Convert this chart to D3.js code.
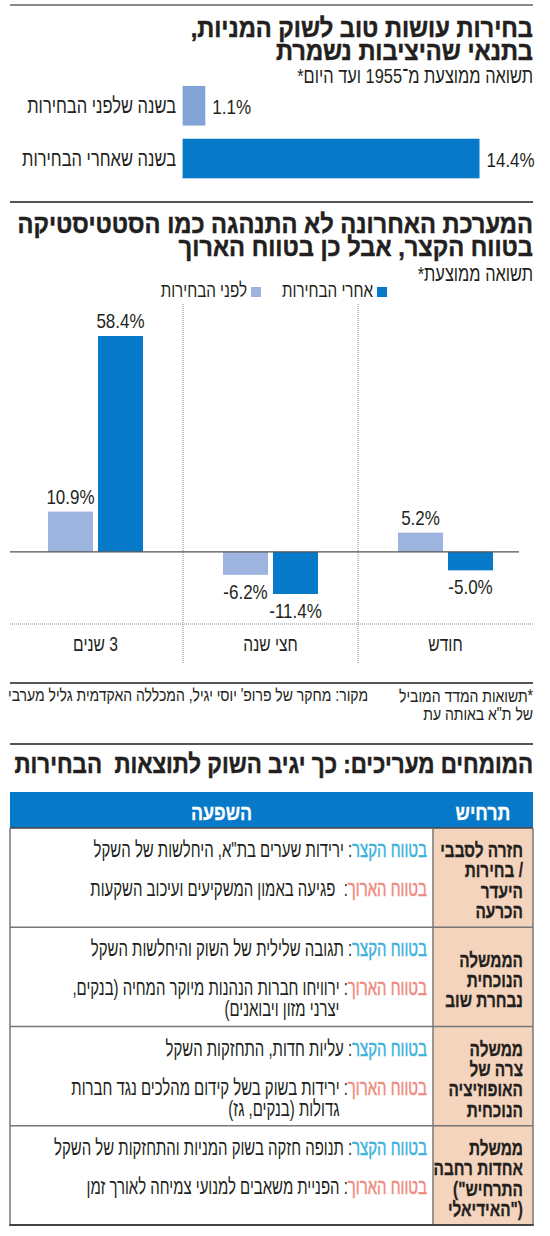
<!DOCTYPE html>
<html lang="he">
<head>
<meta charset="utf-8">
<script src="https://cdn.jsdelivr.net/npm/d3@7"></script>
<style>
  body { margin: 0; background: #fff; }
  svg text { font-family: "Liberation Sans", Arial, sans-serif; white-space: pre; }
</style>
</head>
<body>
<div id="chart"></div>
<script>
// ---- data ----
const topCategories = ['בשנה שלפני הבחירות', 'בשנה שאחרי הבחירות'];
const topValues = [1.1, 14.4];

const periods = ['3 שנים', 'חצי שנה', 'חודש'];
const seriesNames = ['לפני הבחירות', 'אחרי הבחירות'];
const beforeValues = [10.9, -6.2, 5.2];
const afterValues = [58.4, -11.4, -5.0];

// scenario lines are kept in the order the original layout shows them
const scenarios = [
  ['חזרה לסבבי', '/ בחירות', 'היעדר', 'הכרעה'],
  ['הממשלה', 'הנוכחית', 'נבחרת שוב'],
  ['ממשלה', 'צרה של', 'האופוזיציה', 'הנוכחית'],
  ['ממשלת', 'אחדות רחבה', 'התרחיש")', '("האידיאלי']
];
const shortTerm = [
  ['ירידות שערים בת"א, היחלשות של השקל'],
  ['תגובה שלילית של השוק והיחלשות השקל'],
  ['עליות חדות, התחזקות השקל'],
  ['תנופה חזקה בשוק המניות והתחזקות של השקל']
];
const longTerm = [
  [' פגיעה באמון המשקיעים ועיכוב השקעות'],
  ['ירוויחו חברות הנהנות מיוקר המחיה (בנקים,', 'יצרני מזון ויבואנים)'],
  ['ירידות בשוק בשל קידום מהלכים נגד חברות', 'גדולות (בנקים, גז)'],
  ['הפניית משאבים למנועי צמיחה לאורך זמן']
];
const shortLabel = 'בטווח הקצר';
const longLabel = 'בטווח הארוך';

// ---- styles ----
const ink = '#231f20';
const darkBlue = '#0679c8';
const lightBlue = '#9cb4de';
const topLight = '#82a3d8';
const shortColor = '#3db2dc';
const longColor = '#ef8b7f';
const peach = '#f5d4bd';
const gridGray = '#777';

const width = 550, height = 1236;
const left = 10, right = 533;

const svg = d3.select('#chart')
  .append('svg')
  .attr('width', width)
  .attr('height', height)
  .attr('viewBox', `0 0 ${width} ${height}`);

// text with horizontal squeeze, anchored at x
function txt(parent, x, y, s, o) {
  const t = parent.append('text')
    .attr('transform', `translate(${x},${y}) scale(${o.sx || 1},1)`)
    .attr('direction', o.dir || 'rtl')
    .attr('text-anchor', o.anchor || 'start')
    .style('font-size', o.size + 'px')
    .style('font-weight', o.weight || 'normal')
    .attr('fill', o.fill || ink)
    .text(s);
  if (o.heavy) t.attr('stroke', o.fill || ink).attr('stroke-width', o.heavy);
  return t;
}

function rule(y, color, w) {
  svg.append('line')
    .attr('x1', left).attr('x2', right)
    .attr('y1', y).attr('y2', y)
    .attr('stroke', color).attr('stroke-width', w);
}

const T = { size: 26, weight: 'bold', sx: 0.91, heavy: 0.5 };
const SUB = { size: 21, sx: 0.78 };
const BODY = { size: 22, sx: 0.68 };
const CAT = { size: 22, sx: 0.75 };
const NUM = { size: 20, sx: 0.85, dir: 'ltr' };

// ================= chart 1 =================
rule(5, '#8a8a8a', 2);
txt(svg, right, 37, 'בחירות עושות טוב לשוק המניות,', T);
txt(svg, right, 60, 'בתנאי שהיציבות נשמרת', T);
txt(svg, right, 83, 'תשואה ממוצעת מ־1955 ועד היום*', SUB);

const x1 = d3.scaleLinear().domain([0, d3.max(topValues)]).range([182.6, 479.5]);
const y1 = d3.scaleBand().domain(topCategories).range([86, 178.3]).paddingInner(0.25);

const topChart = svg.append('g');
topChart.selectAll('rect')
  .data(topValues)
  .enter()
  .append('rect')
  .attr('x', x1(0))
  .attr('y', (d, i) => y1(topCategories[i]))
  .attr('width', d => x1(d) - x1(0))
  .attr('height', y1.bandwidth())
  .attr('fill', (d, i) => i === 0 ? topLight : darkBlue);

topValues.forEach((d, i) => {
  const cy = y1(topCategories[i]) + y1.bandwidth() / 2;
  txt(topChart, x1(d) + 7, cy + 8, d.toFixed(1) + '%', Object.assign({ anchor: 'start' }, NUM));
  txt(topChart, 176, cy + 7, topCategories[i], CAT);
});

// ================= chart 2 =================
rule(202, '#555', 2);
txt(svg, right, 233, 'המערכת האחרונה לא התנהגה כמו הסטטיסטיקה', T);
txt(svg, right, 256, 'בטווח הקצר, אבל כן בטווח הארוך', T);
txt(svg, right, 281, 'תשואה ממוצעת*', SUB);

// legend
const legend = [
  { name: seriesNames[1], color: darkBlue, x: 387 },
  { name: seriesNames[0], color: lightBlue, x: 261 }
];
legend.forEach(l => {
  svg.append('rect')
    .attr('x', l.x - 10).attr('y', 287)
    .attr('width', 10).attr('height', 10)
    .attr('fill', l.color);
  txt(svg, l.x - 14, 297, l.name, { size: 19.5, sx: 0.78 });
});

const xBand = d3.scaleBand().domain(periods).range([8, right]);
const xInner = d3.scaleBand().domain(seriesNames).range([0, 95]).paddingInner(0.1);
const y2 = d3.scaleLinear().domain([-11.4, 58.4]).range([594, 336]);

// separators
periods.slice(1).forEach(p => {
  svg.append('line')
    .attr('x1', xBand(p)).attr('x2', xBand(p))
    .attr('y1', 304).attr('y2', 663)
    .attr('stroke', '#888').attr('stroke-width', 1)
    .attr('stroke-dasharray', '1,1');
});
svg.append('line')
  .attr('x1', left).attr('x2', right)
  .attr('y1', 624).attr('y2', 624)
  .attr('stroke', '#888').attr('stroke-width', 1)
  .attr('stroke-dasharray', '1,1');

const groups = svg.append('g')
  .selectAll('g')
  .data(periods)
  .enter()
  .append('g')
  .attr('transform', p => `translate(${xBand(p) + xBand.bandwidth() / 2 - 47.5},0)`);

groups.each(function (p, i) {
  const g = d3.select(this);
  const vals = [
    { s: seriesNames[0], v: beforeValues[i], c: lightBlue },
    { s: seriesNames[1], v: afterValues[i], c: darkBlue }
  ];
  vals.forEach(d => {
    g.append('rect')
      .attr('x', xInner(d.s))
      .attr('y', Math.min(y2(0), y2(d.v)))
      .attr('width', xInner.bandwidth())
      .attr('height', Math.abs(y2(d.v) - y2(0)))
      .attr('fill', d.c);
    const ly = d.v >= 0 ? y2(d.v) - 8 : y2(d.v) + 24;
    txt(g, xInner(d.s) + xInner.bandwidth() / 2, ly, d.v.toFixed(1) + '%',
      Object.assign({ anchor: 'middle' }, NUM));
  });
  txt(svg, xBand(p) + xBand.bandwidth() / 2, 651, p, { size: 20, sx: 0.78, anchor: 'middle' });
});

// zero line
svg.append('line')
  .attr('x1', left).attr('x2', 519)
  .attr('y1', y2(0)).attr('y2', y2(0))
  .attr('stroke', '#555').attr('stroke-width', 1.2);

// footer
rule(683, '#555', 2);
const FOOT = { size: 17.5, sx: 0.8 };
txt(svg, right, 702, '*תשואות המדד המוביל', FOOT);
txt(svg, right, 720, 'של ת"א באותה עת', FOOT);
txt(svg, 368, 701, 'מקור: מחקר של פרופ\' יוסי יגיל, המכללה האקדמית גליל מערבי', FOOT);

// ================= table =================
rule(744, '#555', 2);
txt(svg, right, 773, 'המומחים מעריכים: כך יגיב השוק לתוצאות  הבחירות', Object.assign({}, T, { sx: 0.86 }));

const colSplit = 433;
const headTop = 792, headBottom = 828;
const rowY = d3.scaleBand().domain(d3.range(scenarios.length)).range([headBottom, 1225]);

svg.append('rect')
  .attr('x', left).attr('y', headTop)
  .attr('width', right - left).attr('height', headBottom - headTop)
  .attr('fill', darkBlue);
const HEAD = { size: 21, weight: 'bold', sx: 0.85, fill: '#fff', anchor: 'middle', heavy: 0.3 };
txt(svg, (colSplit + right) / 2, 820, 'תרחיש', HEAD);
txt(svg, (left + colSplit) / 2, 820, 'השפעה', HEAD);

// scenario column fill
svg.append('rect')
  .attr('x', colSplit).attr('y', headBottom)
  .attr('width', right - colSplit).attr('height', rowY.range()[1] - headBottom)
  .attr('fill', peach);

const SCEN = { size: 20.5, weight: 'bold', sx: 0.75, heavy: 0.3 };
const lineH = 20.3;

function measure(s, o) {
  const t = txt(svg, 0, 0, s, o);
  const w = t.node().getComputedTextLength() * (o.sx || 1);
  t.remove();
  return w;
}

function impact(y, label, color, lines) {
  const t = txt(svg, 427, y, '', BODY);
  t.append('tspan').attr('fill', color).attr('stroke', color).attr('stroke-width', 0.5).text(label);
  t.append('tspan').attr('fill', ink).text(': ' + lines[0]);
  const indent = measure(label + ': ', BODY);
  lines.slice(1).forEach((l, k) => {
    txt(svg, 427 - indent, y + 21 * (k + 1), l, BODY);
  });
}

scenarios.forEach((lines, i) => {
  const rowTop = rowY(i);
  const mid = rowTop + rowY.bandwidth() / 2;
  const first = mid - (lines.length - 1) * lineH / 2 + 10;
  lines.forEach((l, k) => txt(svg, 523, first + k * lineH, l, SCEN));

  impact(rowTop + 29, shortLabel, shortColor, shortTerm[i]);
  impact(rowTop + 29 + 39, longLabel, longColor, longTerm[i]);
});

// grid lines
rowY.domain().slice(1).forEach(i => {
  svg.append('line')
    .attr('x1', left).attr('x2', right)
    .attr('y1', rowY(i)).attr('y2', rowY(i))
    .attr('stroke', gridGray).attr('stroke-width', 1.5);
});
svg.append('line')
  .attr('x1', left).attr('x2', right)
  .attr('y1', headBottom).attr('y2', headBottom)
  .attr('stroke', '#444').attr('stroke-width', 1.5);
svg.append('line')
  .attr('x1', colSplit).attr('x2', colSplit)
  .attr('y1', headBottom).attr('y2', rowY.range()[1])
  .attr('stroke', gridGray).attr('stroke-width', 1.5);
[left, right].forEach(x => {
  svg.append('line')
    .attr('x1', x).attr('x2', x)
    .attr('y1', headBottom).attr('y2', rowY.range()[1])
    .attr('stroke', gridGray).attr('stroke-width', 1.5);
});
svg.append('line')
  .attr('x1', left - 0.75).attr('x2', right + 0.75)
  .attr('y1', rowY.range()[1]).attr('y2', rowY.range()[1])
  .attr('stroke', '#444').attr('stroke-width', 2);
</script>
</body>
</html>
